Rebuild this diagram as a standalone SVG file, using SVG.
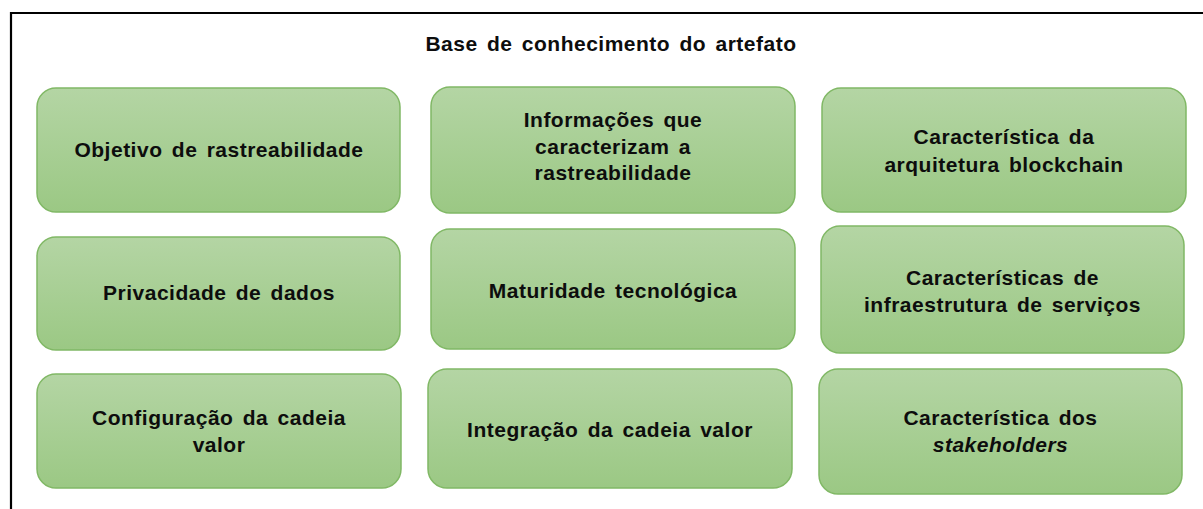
<svg xmlns="http://www.w3.org/2000/svg" width="1203" height="509" viewBox="0 0 1203 509">
<defs>
<linearGradient id="g" x1="0" y1="0" x2="0" y2="1">
<stop offset="0" stop-color="#b4d5a4"/>
<stop offset="1" stop-color="#9bc884"/>
</linearGradient>
<style>
.box{fill:url(#g);stroke:#80b865;stroke-width:1.5}
.t{font-family:"Liberation Sans",Arial,sans-serif;font-weight:bold;font-size:21px;letter-spacing:0.5px;word-spacing:3px;fill:#0d0d0d;text-anchor:middle}
.i{font-style:italic}
</style>
</defs>
<rect width="1203" height="509" fill="#fff"/>
<path d="M11,509 V13 H1203" fill="none" stroke="#000" stroke-width="2.2"/>
<text class="t" x="611" y="51">Base de conhecimento do artefato</text>
<g id="connectors"></g>
<g id="n1"><rect class="box" x="37" y="88" width="363" height="124" rx="19"/><text class="t" x="219" y="157">Objetivo de rastreabilidade</text></g>
<g id="n2"><rect class="box" x="431" y="87" width="364" height="126" rx="19"/><text class="t" x="613" y="127">Informações que</text><text class="t" x="613" y="153.5">caracterizam a</text><text class="t" x="613" y="180">rastreabilidade</text></g>
<g id="n3"><rect class="box" x="822" y="88" width="364" height="124" rx="19"/><text class="t" x="1004" y="144">Característica da</text><text class="t" x="1004" y="171.5">arquitetura blockchain</text></g>
<g id="n4"><rect class="box" x="37" y="237" width="363" height="113" rx="19"/><text class="t" x="219" y="300">Privacidade de dados</text></g>
<g id="n5"><rect class="box" x="431" y="229" width="364" height="120" rx="19"/><text class="t" x="613" y="298">Maturidade tecnológica</text></g>
<g id="n6"><rect class="box" x="821" y="226" width="363" height="127" rx="19"/><text class="t" x="1002.5" y="285">Características de</text><text class="t" x="1002.5" y="311.5">infraestrutura de serviços</text></g>
<g id="n7"><rect class="box" x="37" y="374" width="364" height="114" rx="19"/><text class="t" x="219" y="425">Configuração da cadeia</text><text class="t" x="219" y="451.5">valor</text></g>
<g id="n8"><rect class="box" x="428" y="369" width="364" height="119" rx="19"/><text class="t" x="610" y="436.5">Integração da cadeia valor</text></g>
<g id="n9"><rect class="box" x="819" y="369" width="363" height="125" rx="19"/><text class="t" x="1000.5" y="425">Característica dos</text><text class="t i" x="1000.5" y="451.5">stakeholders</text></g>
</svg>
